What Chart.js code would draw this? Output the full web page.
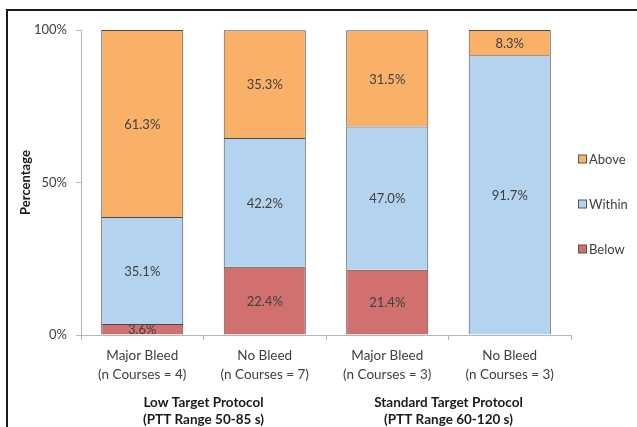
<!DOCTYPE html>
<html>
<head>
<meta charset="utf-8">
<script src="https://cdn.jsdelivr.net/npm/chart.js@4/dist/chart.umd.min.js"></script>
<style>
  html, body { margin: 0; padding: 0; background: #fff; }
  #wrap { width: 637px; height: 427px; position: relative; }
</style>
</head>
<body>
<div id="wrap"><canvas id="myChart" width="637" height="427"></canvas></div>
<script>
// data
const categories = [
    ['Major Bleed', '(n Courses = 4)'],
    ['No Bleed', '(n Courses = 7)'],
    ['Major Bleed', '(n Courses = 3)'],
    ['No Bleed', '(n Courses = 3)']
];
const groupLabels = [
    ['Low Target Protocol', '(PTT Range 50-85 s)'],
    ['Standard Target Protocol', '(PTT Range 60-120 s)']
];
const below = [3.6, 22.4, 21.4, 0];
const within = [35.1, 42.2, 47.0, 91.7];
const above = [61.3, 35.3, 31.5, 8.3];
const yTicks = [0, 50, 100];

const FONT = 'Lato, "Liberation Sans", sans-serif';
const TEXT = '#404040';
const AXIS = '#b7b7b7';

// labels in the middle of each segment, group captions, legend and the outer frame
const extras = {
    id: 'extras',
    beforeDraw(chart) {
        const ctx = chart.ctx;
        ctx.save();
        ctx.strokeStyle = '#1a1a1a';
        ctx.lineWidth = 2;
        ctx.beginPath();
        ctx.moveTo(7, 427);
        ctx.lineTo(7, 10);
        ctx.lineTo(637, 10);
        ctx.stroke();
        ctx.restore();
    },
    afterDatasetsDraw(chart) {
        const ctx = chart.ctx;
        ctx.save();
        ctx.fillStyle = TEXT;
        ctx.font = '13px ' + FONT;
        ctx.textAlign = 'center';
        ctx.textBaseline = 'middle';
        chart.data.datasets.forEach((ds, i) => {
            chart.getDatasetMeta(i).data.forEach((bar, j) => {
                if (!ds.data[j]) return;
                ctx.fillText(ds.data[j].toFixed(1) + '%', bar.x, (bar.y + bar.base) / 2 + 1);
            });
        });
        ctx.restore();
    },
    afterDraw(chart) {
        const ctx = chart.ctx;
        const xs = chart.scales.x;
        const area = chart.chartArea;
        ctx.save();
        ctx.fillStyle = '#1a1a1a';
        ctx.textAlign = 'center';
        ctx.textBaseline = 'middle';
        ctx.font = 'bold 13.5px ' + FONT;
        groupLabels.forEach((g, k) => {
            const cx = (xs.getPixelForValue(k * 2) + xs.getPixelForValue(k * 2 + 1)) / 2;
            ctx.fillText(g[0], cx, area.bottom + 68);
            ctx.fillText(g[1], cx, area.bottom + 85);
        });

        // legend, top to bottom like the original
        const items = chart.data.datasets.slice().reverse();
        const mid = (area.top + area.bottom) / 2;
        ctx.font = '13px ' + FONT;
        ctx.textAlign = 'left';
        items.forEach((ds, k) => {
            const y = mid - 23 + k * 45;
            ctx.fillStyle = ds.backgroundColor;
            ctx.fillRect(area.right + 7.5, y - 4.5, 8, 8);
            ctx.strokeStyle = '#555';
            ctx.lineWidth = 1;
            ctx.strokeRect(area.right + 7.5, y - 4.5, 8, 8);
            ctx.fillStyle = TEXT;
            ctx.fillText(ds.label, area.right + 18, y);
        });
        ctx.restore();
    }
};

const ctx = document.getElementById('myChart').getContext('2d');
new Chart(ctx, {
    type: 'bar',
    data: {
        labels: categories,
        datasets: [{
            label: 'Below',
            data: below,
            backgroundColor: '#d07170',
            borderColor: '#4a4a4a',
            borderWidth: 1
        }, {
            label: 'Within',
            data: within,
            backgroundColor: '#b4d3ee',
            borderColor: '#4a4a4a',
            borderWidth: 1
        }, {
            label: 'Above',
            data: above,
            backgroundColor: '#f9b16a',
            borderColor: '#4a4a4a',
            borderWidth: 1
        }]
    },
    options: {
        responsive: false,
        animation: false,
        layout: { padding: { top: 30, right: 66, left: 0, bottom: 0 } },
        datasets: {
            bar: { categoryPercentage: 1, barPercentage: 0.67 }
        },
        scales: {
            x: {
                stacked: true,
                afterFit(scale) { scale.height = 92; },
                grid: {
                    offset: true,
                    drawOnChartArea: false,
                    drawTicks: true,
                    tickLength: 5,
                    color: AXIS
                },
                border: { color: AXIS },
                ticks: {
                    color: TEXT,
                    font: { family: FONT, size: 13.5, lineHeight: 1.4 },
                    padding: 6,
                    maxRotation: 0
                }
            },
            y: {
                stacked: true,
                min: 0,
                max: 100,
                afterFit(scale) { scale.width = 81; },
                afterBuildTicks(scale) { scale.ticks = yTicks.map(v => ({ value: v })); },
                grid: {
                    drawOnChartArea: false,
                    drawTicks: true,
                    tickLength: 5,
                    color: AXIS
                },
                border: { color: AXIS },
                ticks: {
                    color: TEXT,
                    font: { family: FONT, size: 13 },
                    padding: 9,
                    callback: v => v + '%'
                },
                title: {
                    display: true,
                    text: 'Percentage',
                    color: '#1a1a1a',
                    font: { family: FONT, size: 13, weight: 'bold' },
                    padding: { top: 18, bottom: 0 }
                }
            }
        },
        plugins: {
            legend: { display: false },
            tooltip: { enabled: false }
        }
    },
    plugins: [extras]
});
</script>
</body>
</html>
